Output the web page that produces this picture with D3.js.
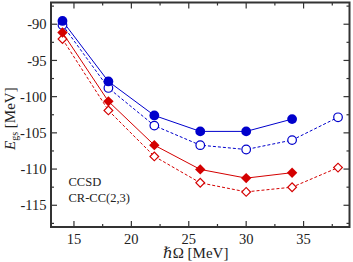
<!DOCTYPE html>
<html><head><meta charset="utf-8">
<script src="https://cdn.jsdelivr.net/npm/d3@7"></script>
<style>body{margin:0;background:#fff}svg{display:block}</style>
</head><body><svg id="c" width="353" height="262"></svg>
<script>
const xs = [14, 18, 22, 26, 30, 34, 38];
const ccsdFilled = [-89.55, -97.9, -102.6, -104.8, -104.8, -103.1];
const ccsdOpen = [-90.1, -98.8, -104.0, -106.7, -107.3, -106.0, -102.85];
const crccFilled = [-91.15, -100.65, -106.7, -110.05, -111.25, -110.5];
const crccOpen = [-92.05, -101.9, -108.25, -111.9, -113.15, -112.5, -109.8];
const xTicks = [15, 20, 25, 30, 35];
const yTicks = [-90, -95, -100, -105, -110, -115];
const legendLabels = ["CCSD", "CR-CC(2,3)"];

const FONT = '"Liberation Serif","DejaVu Serif",serif';
const blue = "#0000cc", red = "#d40000", axisCol = "#333", txt = "#222";
const svg = d3.select("#c");
const L = 51, R = 349.5, T = 2.5, B = 227;
const x = d3.scaleLinear().domain([13, 39]).range([L, R]);
const y = d3.scaleLinear().domain([-87, -118]).range([T, B]);

const minorX = d3.range(12.5, 39.5, 2.5).filter(v => v > 13 && v < 39 && !xTicks.includes(v));
const minorY = d3.range(-117.5, -87, 2.5).filter(v => !yTicks.includes(v));

const tg = svg.append("g").attr("stroke", axisCol).attr("stroke-width", 1.2);
function xt(vals, len) {
  tg.selectAll(null).data(vals).join("line").attr("x1", d => x(d)).attr("x2", d => x(d)).attr("y1", B).attr("y2", B - len);
  tg.selectAll(null).data(vals).join("line").attr("x1", d => x(d)).attr("x2", d => x(d)).attr("y1", T).attr("y2", T + len);
}
function yt(vals, len) {
  tg.selectAll(null).data(vals).join("line").attr("y1", d => y(d)).attr("y2", d => y(d)).attr("x1", L).attr("x2", L + len);
  tg.selectAll(null).data(vals).join("line").attr("y1", d => y(d)).attr("y2", d => y(d)).attr("x1", R).attr("x2", R - len);
}
xt(xTicks, 6); xt(minorX, 3); yt(yTicks, 6); yt(minorY, 3);
svg.append("rect").attr("x", L).attr("y", T).attr("width", R - L).attr("height", B - T)
  .attr("fill", "none").attr("stroke", axisCol).attr("stroke-width", 2);

const lab = svg.append("g").attr("font-family", FONT).attr("font-size", 14.5).attr("fill", txt);
lab.selectAll(null).data(xTicks).join("text").attr("x", d => x(d)).attr("y", 243.5)
  .attr("text-anchor", "middle").text(d => d3.format("d")(d));
lab.selectAll(null).data(yTicks).join("text").attr("x", L - 4.5).attr("y", d => y(d)).attr("dy", "0.35em")
  .attr("text-anchor", "end").text(d => "-" + Math.abs(d));

// series
const line = d3.line().x(d => x(d[0])).y(d => y(d[1]));
function series(vals, col, dashed) {
  const pts = vals.map((v, i) => [xs[i], v]);
  svg.append("path").attr("d", line(pts)).attr("fill", "none").attr("stroke", col)
    .attr("stroke-width", 1).attr("stroke-dasharray", dashed ? "3,2" : null);
  return pts;
}
const p1 = series(ccsdOpen, blue, true);
const p2 = series(crccOpen, red, true);
const p3 = series(ccsdFilled, blue, false);
const p4 = series(crccFilled, red, false);
svg.append("g").selectAll("circle").data(p1).join("circle")
  .attr("cx", d => x(d[0])).attr("cy", d => y(d[1])).attr("r", 4.3)
  .attr("fill", "#fff").attr("stroke", blue).attr("stroke-width", 1.2);
svg.append("g").selectAll("path").data(p2).join("path")
  .attr("d", d3.symbol().type(d3.symbolSquare).size(38)())
  .attr("transform", d => `translate(${x(d[0])},${y(d[1])}) rotate(45)`)
  .attr("fill", "#fff").attr("stroke", red).attr("stroke-width", 1.2);
svg.append("g").selectAll("circle").data(p3).join("circle")
  .attr("cx", d => x(d[0])).attr("cy", d => y(d[1])).attr("r", 4.9).attr("fill", blue);
svg.append("g").selectAll("path").data(p4).join("path")
  .attr("d", d3.symbol().type(d3.symbolSquare).size(54)())
  .attr("transform", d => `translate(${x(d[0])},${y(d[1])}) rotate(45)`)
  .attr("fill", red);

// legend text
const lg = svg.append("g").attr("font-family", FONT).attr("font-size", 12.5).attr("fill", txt);
lg.append("text").attr("x", 68.5).attr("y", 186).text(legendLabels[0]);
lg.append("text").attr("x", 68.5).attr("y", 201.5).text(legendLabels[1]);

// axis titles
const xtl = svg.append("text").attr("x", 163).attr("y", 258).attr("text-anchor", "start")
  .attr("font-family", FONT).attr("font-size", 15).attr("fill", txt);
xtl.append("tspan").attr("font-style", "italic").text("ℏ");
xtl.append("tspan").text("Ω  [MeV]");
const ytl = svg.append("text").attr("transform", "translate(15,150) rotate(-90)").attr("text-anchor", "start")
  .attr("font-family", FONT).attr("font-size", 15).attr("fill", txt);
ytl.append("tspan").attr("font-style", "italic").text("E");
ytl.append("tspan").attr("font-size", 10).attr("dy", 3).text("gs");
ytl.append("tspan").attr("dy", -3).text("  [MeV]");
</script></body></html>
